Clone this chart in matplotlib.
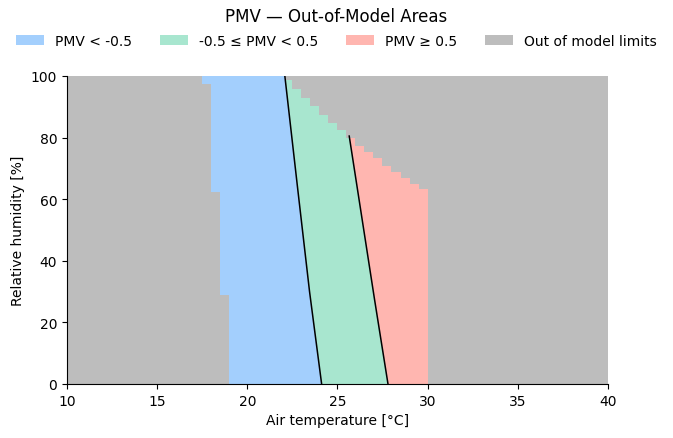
import numpy as np
import matplotlib
matplotlib.use("Agg")
import matplotlib.pyplot as plt
from matplotlib.colors import ListedColormap
from matplotlib.patches import Patch

# ── Data ──────────────────────────────────────────────────────────────────────

# 0.5 °C temperature columns of the valid model grid, with their RH range
col_left  = [17.5, 18.0, 18.5, 19.0, 19.5, 20.0, 20.5, 21.0, 21.5, 22.0, 22.5, 23.0, 23.5,
             24.0, 24.5, 25.0, 25.5, 26.0, 26.5, 27.0, 27.5, 28.0, 28.5, 29.0, 29.5]
col_right_end = 30.0
rh_bottom = [97.4, 62.3, 28.9, 0, 0, 0, 0, 0, 0, 0, 0, 0, 0,
             0, 0, 0, 0, 0, 0, 0, 0, 0, 0, 0, 0]
rh_top    = [100, 100, 100, 100, 100, 100, 100, 100, 100, 98.7, 95.8, 92.9, 90.3,
             87.3, 84.7, 82.5, 79.9, 77.3, 75.3, 73.4, 70.8, 68.8, 66.9, 64.9, 63.3]

# PMV = -0.5 and PMV = +0.5 contours (RH %, air temperature °C)
pmv_lo_rh = [0, 30, 63, 100]
pmv_lo_t  = [24.12, 23.45, 22.8, 22.08]
pmv_hi_rh = [0, 27.6, 80.5]
pmv_hi_t  = [27.8, 27.05, 25.65]

labels = ["PMV < -0.5", "-0.5 \u2264 PMV < 0.5", "PMV \u2265 0.5", "Out of model limits"]
colors = ["#a3cffd", "#a8e6cf", "#ffb6b0", "#bdbdbd"]

# ── Classify a fine grid ──────────────────────────────────────────────────────

t = np.linspace(10, 40, 3001)
rh = np.linspace(0, 100, 2001)
T, RH = np.meshgrid(t, rh)

edges = np.array(col_left + [col_right_end])
idx = np.searchsorted(edges, T, side="right") - 1
in_cols = (idx >= 0) & (idx < len(col_left))
idx_c = np.clip(idx, 0, len(col_left) - 1)
bot = np.array(rh_bottom)[idx_c]
top = np.array(rh_top)[idx_c]

lo = np.interp(RH, pmv_lo_rh, pmv_lo_t)
hi = np.interp(RH, pmv_hi_rh, pmv_hi_t)

valid = in_cols & (RH >= bot) & ((RH <= top) | (T < lo))
cat = np.full(T.shape, 3)
cat[valid & (T < lo)] = 0
cat[valid & (T >= lo) & (T < hi)] = 1
cat[valid & (T >= hi)] = 2

# ── Plot ──────────────────────────────────────────────────────────────────────

fig = plt.figure(figsize=(6.73, 4.39), dpi=100)
ax = fig.add_axes([67 / 673, 1 - 385 / 439, 541 / 673, 308 / 439])

ax.imshow(cat, origin="lower", extent=(10, 40, 0, 100), aspect="auto",
          cmap=ListedColormap(colors), vmin=-0.5, vmax=3.5, interpolation="nearest")
ax.plot(pmv_lo_t, pmv_lo_rh, color="black", lw=1.1)
ax.plot(pmv_hi_t, pmv_hi_rh, color="black", lw=1.1)

ax.set_xlim(10, 40)
ax.set_ylim(0, 100)
ax.set_xticks([10, 15, 20, 25, 30, 35, 40])
ax.set_yticks([0, 20, 40, 60, 80, 100])
ax.set_xlabel("Air temperature [\u00b0C]", fontsize=10)
ax.set_ylabel("Relative humidity [%]", fontsize=10)
ax.tick_params(labelsize=10)
for s in ["top", "right"]:
    ax.spines[s].set_visible(False)

handles = [Patch(facecolor=c, label=l) for c, l in zip(colors, labels)]
fig.legend(handles=handles, loc="center", ncol=4, frameon=False, fontsize=10,
           bbox_to_anchor=(0.5, 1 - 42 / 439))
fig.text(0.5, 1 - 17 / 439, "PMV \u2014 Out-of-Model Areas", ha="center", va="center",
         fontsize=12)

fig.savefig("out.png", dpi=100)
